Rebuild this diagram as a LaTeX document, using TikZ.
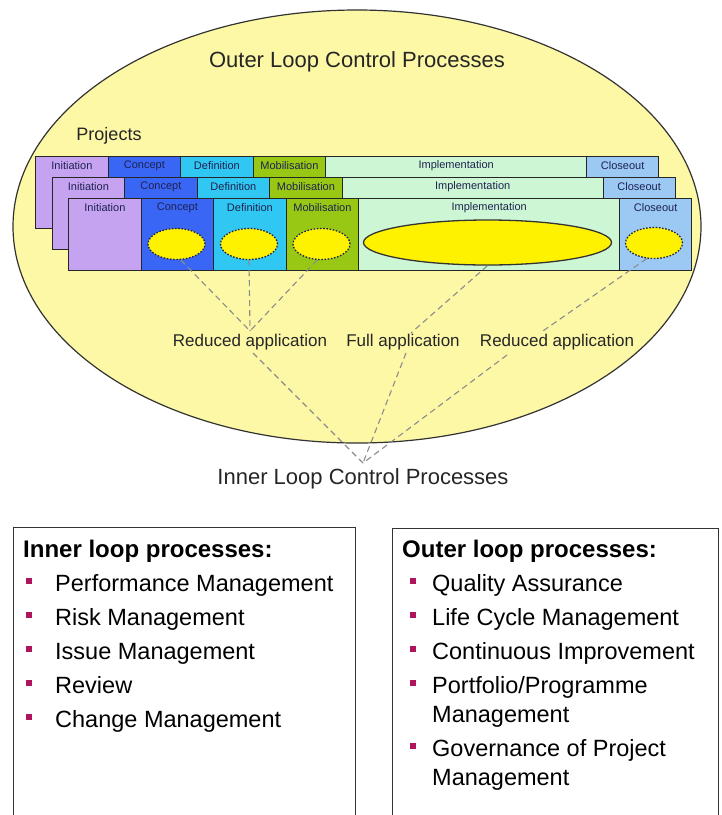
\documentclass[tikz,border=0pt]{standalone}
\usepackage{fontspec}
\setmainfont{Liberation Sans}
\usetikzlibrary{shapes.geometric}
\definecolor{bigy}{HTML}{FCF8A6}
\definecolor{cini}{HTML}{C6A3F0}
\definecolor{ccon}{HTML}{3A66F5}
\definecolor{cdef}{HTML}{30C8F2}
\definecolor{cmob}{HTML}{98C814}
\definecolor{cimp}{HTML}{CDF6D4}
\definecolor{cclo}{HTML}{9CC8F4}
\definecolor{navy}{HTML}{1E2250}
\definecolor{bulc}{HTML}{B0145A}
\definecolor{dgray}{HTML}{8C8C8C}
\begin{document}
\begin{tikzpicture}[x=1pt,y=-1pt,
  cell/.style={rectangle, draw=black!85, line width=1.3pt, minimum height=72pt, inner sep=0pt, anchor=north west},
  hdr/.style={font=\fontsize{11}{12}\selectfont, text=navy, inner sep=0pt, anchor=center, yshift=-10pt},
  inel/.style={ellipse, draw=navy, fill=yellow, line width=1.3pt, dash pattern=on 1.6pt off 1.6pt, minimum width=57pt, minimum height=31pt, inner sep=0pt},
  dl/.style={draw=dgray, dash pattern=on 6pt off 4pt, line width=1.1pt},
  mid/.style={font=\fontsize{17}{20}\selectfont, inner sep=0pt, text=black!85},
  big/.style={font=\fontsize{22}{26}\selectfont, inner sep=0pt, text=black!85},
  head/.style={font=\fontsize{24}{28}\selectfont\bfseries, anchor=base west, inner sep=0pt},
  item/.style={font=\fontsize{23.5}{28}\selectfont, anchor=base west, inner sep=0pt},
  bul/.style={rectangle, fill=bulc, minimum size=6pt, inner sep=0pt},
  box/.style={rectangle, draw=black!80, line width=1.2pt, anchor=north west, inner sep=0pt}]
\useasboundingbox (0,0) rectangle (722,815);

% outer ellipse
\node[ellipse, draw=black!80, fill=bigy, line width=1.2pt, minimum width=688pt, minimum height=433pt, inner sep=0pt] (outer) at (357,226.5) {};
\node[big] (otitle) at (357,62) {Outer Loop Control Processes};
\node[font=\fontsize{18}{20}\selectfont, inner sep=0pt, text=black!85] (proj) at (109,136) {Projects};

% project rows
\foreach \r/\x/\y in {1/35/156,2/51.5/177,3/68/198}{
  \node[cell, fill=cini, minimum width=72.5pt, label={[hdr]north:Initiation}] (c\r-1) at (\x,\y) {};
  \node[cell, fill=ccon, minimum width=72.5pt, label={[hdr]north:Concept}] (c\r-2) at ({\x+72.5},\y) {};
  \node[cell, fill=cdef, minimum width=72.5pt, label={[hdr]north:Definition}] (c\r-3) at ({\x+145},\y) {};
  \node[cell, fill=cmob, minimum width=72.5pt, label={[hdr]north:Mobilisation}] (c\r-4) at ({\x+217.5},\y) {};
  \node[cell, fill=cimp, minimum width=261pt, label={[hdr]north:Implementation}] (c\r-5) at ({\x+290},\y) {};
  \node[cell, fill=cclo, minimum width=72pt, label={[hdr]north:Closeout}] (c\r-6) at ({\x+551},\y) {};
}

% inner ellipses
\node[inel] (e2) at (176.5,244) {};
\node[inel] (e3) at (249,244) {};
\node[inel] (e4) at (321.5,244) {};
\node[ellipse, draw=black!80, fill=yellow, line width=1.3pt, minimum width=248pt, minimum height=45pt, inner sep=0pt] (e5) at (487.5,242.5) {};
\node[inel] (e6) at (654,243) {};

% labels
\node[mid] (la) at (250,342) {Reduced application};
\node[mid] (lf) at (403,342) {Full application};
\node[mid] (lr) at (557,342) {Reduced application};

% junctions
\coordinate (jl) at (250,331);
\coordinate (jf) at (411,333);
\coordinate (jr) at (540,333);
\coordinate (bl) at (253,353);
\coordinate (bf) at (406,353);
\coordinate (br) at (507,355);
\coordinate (apex) at (363,463);

\draw[dl] (e2.-75) -- (jl);
\draw[dl] (e3.south) -- (jl);
\draw[dl] (e4.-105) -- (jl);
\draw[dl] (e5.south) -- (jf);
\draw[dl] (e6.-115) -- (jr);
\draw[dl] (bl) -- (apex);
\draw[dl] (bf) -- (apex);
\draw[dl] (br) -- (apex);

\node[big, anchor=north] (inner) at (363,468) {Inner Loop Control Processes};

% bottom boxes
\begin{scope}
\clip (0,0) rectangle (722,815);
\node[box, minimum width=342pt, minimum height=320pt] (inbox) at (13,527) {};
\node[box, minimum width=326pt, minimum height=320pt] (outbox) at (392,528) {};
\end{scope}

\node[head] (ih) at (23,557) {Inner loop processes:};
\node[bul] (b1) at (29,581) {};
\node[item] (i1) at (55,591) {Performance Management};
\node[bul] (b2) at (29,615) {};
\node[item] (i2) at (55,625) {Risk Management};
\node[bul] (b3) at (29,649) {};
\node[item] (i3) at (55,659) {Issue Management};
\node[bul] (b4) at (29,683) {};
\node[item] (i4) at (55,693) {Review};
\node[bul] (b5) at (29,717) {};
\node[item] (i5) at (55,727) {Change Management};

\node[head] (oh) at (402,557) {Outer loop processes:};
\node[bul] (b6) at (413,581) {};
\node[item] (o1) at (432,591) {Quality Assurance};
\node[bul] (b7) at (413,615) {};
\node[item] (o2) at (432,625) {Life Cycle Management};
\node[bul] (b8) at (413,649) {};
\node[item] (o3) at (432,659) {Continuous Improvement};
\node[bul] (b9) at (413,683) {};
\node[item] (o4) at (432,693) {Portfolio/Programme};
\node[item] (o4b) at (432,722) {Management};
\node[bul] (b10) at (413,746) {};
\node[item] (o5) at (432,756) {Governance of Project};
\node[item] (o5b) at (432,785) {Management};
\end{tikzpicture}
\end{document}
